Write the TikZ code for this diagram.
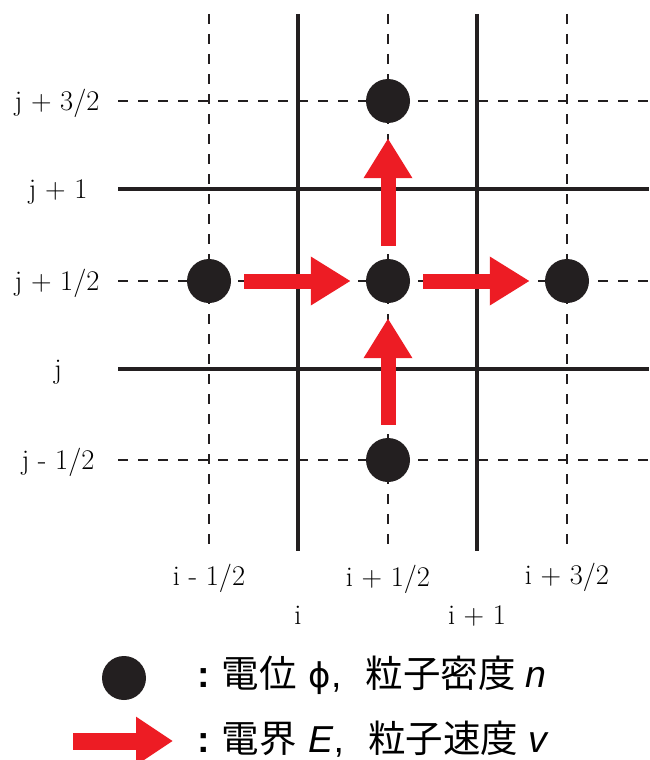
\documentclass[tikz,border=0pt]{standalone}
\usepackage{fontspec}
\usetikzlibrary{arrows.meta}
\newfontfamily\cjk{Noto Sans CJK JP}
\newfontfamily\lsans{Liberation Sans}
\newfontfamily\dvs{DejaVu Sans}
\definecolor{ink}{HTML}{231F20}
\definecolor{ared}{HTML}{ED1C24}
\begin{document}
\begin{tikzpicture}[x=1pt,y=-1pt,
  solidline/.style={ink, line width=4pt},
  dashline/.style={ink, line width=2.5pt, dash pattern=on 10pt off 10pt},
  dot/.style={circle, fill=ink, minimum size=44pt, inner sep=0pt},
  efield/.style={ared, line width=15pt, -{Triangle[length=40pt,width=46pt]}, shorten <=13pt, shorten >=15pt},
  lab/.style={font=\fontsize{28.5}{32}\selectfont, inner sep=0pt, anchor=base},
  leg/.style={font=\fontsize{37.5}{42}\selectfont, anchor=base west, inner sep=0pt}]
\useasboundingbox (0,0) rectangle (649,760);
% grid
\foreach \x in {209,388,567} \draw[dashline] (\x,14) -- (\x,550);
\foreach \y in {101,281,460} \draw[dashline] (118,\y) -- (649,\y);
\foreach \x in {298,477} \draw[solidline] (\x,14) -- (\x,551);
\foreach \y in {189,369} \draw[solidline] (118,\y) -- (649,\y);
% labels
\node[lab] (lj32) at (57,110) {j + 3/2};
\node[lab] (lj1) at (58,198) {j + 1};
\node[lab] (lj12) at (57,290) {j + 1/2};
\node[lab] (lj) at (58,378) {j};
\node[lab] (ljm) at (58,469) {j - 1/2};
\node[lab] (lim) at (209,585) {i - 1/2};
\node[lab] (lip) at (388,586) {i + 1/2};
\node[lab] (lip3) at (567,584) {i + 3/2};
\node[lab] (li) at (298,624) {i};
\node[lab] (li1) at (477,624) {i + 1};
% dots
\node[dot] (a) at (209,281) {};
\node[dot] (b) at (388,101) {};
\node[dot] (c) at (388,281) {};
\node[dot] (d) at (567,281) {};
\node[dot] (e) at (388,460) {};
% arrows
\draw[efield] (a) -- (c);
\draw[efield] (c) -- (d);
\draw[efield] (e) -- (c);
\draw[efield] (c) -- (b);
% legend
\node[dot] (ldot) at (124,678) {};
\coordinate (la0) at (73,741);
\coordinate (la1) at (173,741);
\draw[ared, line width=17pt, -{Triangle[length=37pt,width=46pt]}] (la0) -- (la1);
\node[leg] (t1) at (197,687) {{\lsans\bfseries :}\hspace{12pt}{\cjk 電位}\hspace{12pt}{\dvs\fontsize{34}{40}\selectfont ϕ}{\lsans ,}\hspace{24pt}{\cjk 粒子密度}\hspace{10pt}{\lsans\itshape n}};
\node[leg] (t2) at (197,752) {{\lsans\bfseries :}\hspace{12pt}{\cjk 電界}\hspace{12pt}{\lsans\itshape E}{\lsans ,}\hspace{24pt}{\cjk 粒子速度}\hspace{10pt}{\lsans\itshape v}};
\end{tikzpicture}
\end{document}
